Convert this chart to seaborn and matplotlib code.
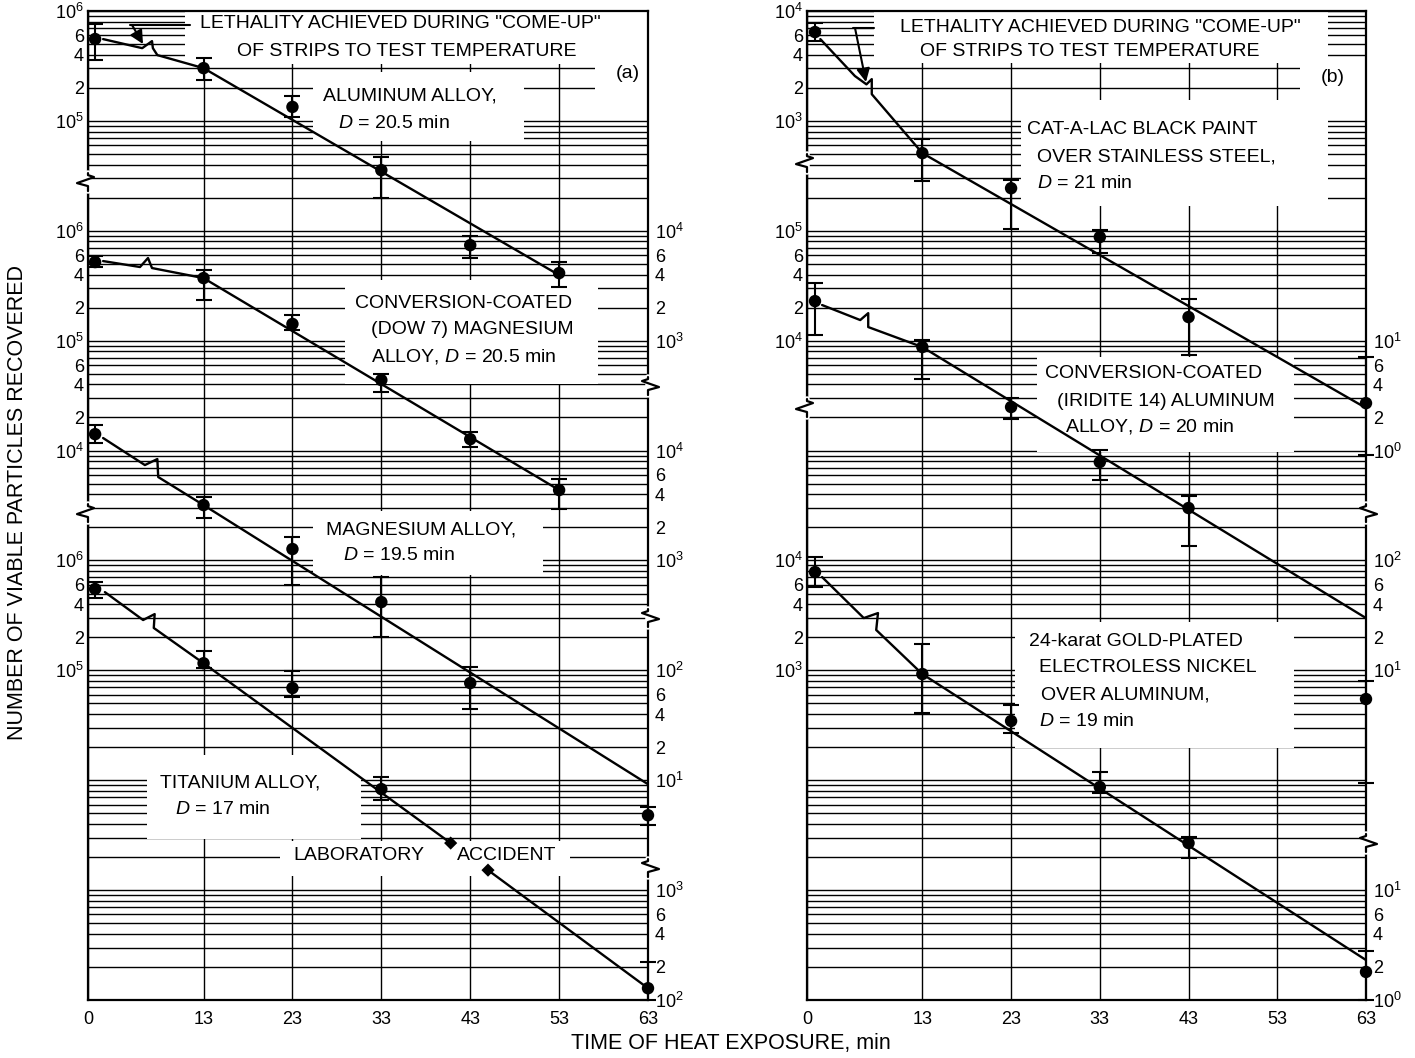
import numpy as np
import matplotlib
matplotlib.use("Agg")
import matplotlib.pyplot as plt
import seaborn as sns
from matplotlib.patches import Rectangle
from matplotlib.lines import Line2D
from matplotlib.ticker import LogLocator, NullLocator, FixedLocator, NullFormatter
from matplotlib.transforms import blended_transform_factory, IdentityTransform

# ---------------------------------------------------------------- data
TIME_TICKS = [0, 13, 23, 33, 43, 53, 63]

# ---- panel (a)
AL_T = [0.8, 13, 23, 33, 43, 53]
AL_V = [5.56e5, 3.02e5, 1.34e5, 3.56e4, 7.4e3, 4.12e3]
AL_HI = [7.6e5, 3.73e5, 1.68e5, 4.69e4, 8.95e3, 5.19e3]
AL_LO = [3.57e5, 2.35e5, 1.08e5, 1.98e4, 5.65e3, 3.07e3]
AL_FIT_T = [13, 53]
AL_FIT_V = [3.02e5, 3.95e3]
AL_CUP_T = [1.7, 6.1, 7.2, 7.3, 7.8, 13]
AL_CUP_V = [5.55e5, 4.59e5, 5.32e5, 4.59e5, 3.97e5, 3.02e5]

DOW_T = [0.8, 13, 23, 33, 43, 53]
DOW_V = [5.19e5, 3.71e5, 1.42e5, 4.38e4, 1.27e4, 4.37e3]
DOW_HI = [5.89e5, 4.39e5, 1.71e5, 4.97e4, 1.47e4, 5.5e3]
DOW_LO = [4.68e5, 2.34e5, 1.25e5, 3.40e4, 1.08e4, 2.94e3]
DOW_FIT_T = [13, 53]
DOW_FIT_V = [3.71e5, 4.37e3]
DOW_CUP_T = [1.7, 5.85, 6.75, 7.2, 13]
DOW_CUP_V = [5.3e5, 4.68e5, 5.65e5, 4.58e5, 3.71e5]

MG_T = [0.8, 13, 23, 33, 43, 63]
MG_V = [1.41e4, 3.19e3, 1.27e3, 418, 76.6, 4.8]
MG_HI = [1.71e4, 3.78e3, 1.63e3, 706, 107, 5.7]
MG_LO = [1.17e4, 2.43e3, 597, 201, 44.5, 3.9]
MG_FIT_T = [13, 63]
MG_FIT_V = [3.19e3, 9.2]
MG_CUP_T = [1.7, 6.4, 7.8, 7.9, 13]
MG_CUP_V = [1.30e4, 7.38e3, 8.37e3, 5.74e3, 3.19e3]

TI_T = [0.8, 13, 23, 33, 63]
TI_V = [5.5e5, 1.16e5, 6.9e4, 8.3e3, 128]
TI_HI = [6.36e5, 1.50e5, 9.86e4, 1.07e4, 222]
TI_LO = [4.55e5, 1.05e5, 5.71e4, 6.6e3, 100]
TI_FIT_T = [13, 40.8, 45.0, 63]          # gap = laboratory accident
TI_FIT_V = [1.16e5, 2.68e3, 1.52e3, 128]
TI_CUP_T = [1.9, 6.2, 7.5, 7.4, 13]
TI_CUP_V = [5.15e5, 2.87e5, 3.25e5, 2.43e5, 1.16e5]

# ---- panel (b)
CAT_T = [0.9, 13, 23, 33, 43, 63]
CAT_V = [6.43e3, 509, 244, 87.7, 16.4, 2.70]
CAT_HI = [7.76e3, 683, 289, 101, 23.9, 7.1]
CAT_LO = [5.32e3, 283, 104, 62.7, 7.4, 0.91]
CAT_FIT_T = [13, 63]
CAT_FIT_V = [509, 2.44]
CAT_CUP_T = [1.5, 5.4, 6.7, 7.3, 7.3, 13]
CAT_CUP_V = [5.55e3, 2.56e3, 2.15e3, 2.4e3, 1.75e3, 509]

IRI_T = [0.9, 13, 23, 33, 43, 63]
IRI_V = [2.29e4, 8.75e3, 2.49e3, 786, 300, 5.48]
IRI_HI = [3.34e4, 1.01e4, 3.0e3, 1.01e3, 385, 8.0]
IRI_LO = [1.12e4, 4.48e3, 1.94e3, 539, 135, 0.94]
IRI_FIT_T = [13, 63]
IRI_FIT_V = [8.75e3, 29.9]
IRI_CUP_T = [1.7, 6.0, 6.9, 6.9, 13]
IRI_CUP_V = [2.11e4, 1.54e4, 1.78e4, 1.33e4, 8.75e3]

GOLD_T = [0.9, 13, 23, 33, 43, 63]
GOLD_V = [7.84e3, 925, 346, 86.7, 26.8, 1.80]
GOLD_HI = [1.07e4, 1.73e3, 483, 119, 30.4, 2.79]
GOLD_LO = [5.73e3, 409, 269, 76.5, 19.6, 1.0]
GOLD_FIT_T = [13, 63]
GOLD_FIT_V = [925, 2.31]
GOLD_CUP_T = [1.7, 6.4, 8.0, 7.8, 13]
GOLD_CUP_V = [7.06e3, 2.99e3, 3.32e3, 2.33e3, 925]

# tick label groups: (exponent placing the scale on the 9-decade sheet, values)
LEFT_A = [(3, [1e6, 6e5, 4e5, 2e5, 1e5]),
          (1, [1e6, 6e5, 4e5, 2e5, 1e5, 6e4, 4e4, 2e4, 1e4]),
          (-2, [1e6, 6e5, 4e5, 2e5, 1e5])]
RIGHT_A = [(3, [1e4, 6e3, 4e3, 2e3, 1e3]),
           (1, [1e4, 6e3, 4e3, 2e3, 1e3]),
           (1, [1e2, 60, 40, 20, 10]),
           (-2, [1e3, 600, 400, 200, 100])]
LEFT_B = [(5, [1e4, 6e3, 4e3, 2e3, 1e3]),
          (2, [1e5, 6e4, 4e4, 2e4, 1e4]),
          (0, [1e4, 6e3, 4e3, 2e3, 1e3])]
RIGHT_B = [(5, [10, 6, 4, 2, 1]),
           (2, [100, 60, 40, 20, 10]),
           (0, [10, 6, 4, 2, 1])]

SHIFT = dict(AL=3, DOW=1, MG=1, TI=-2, CAT=5, IRI=2, GOLD=0)

# ---------------------------------------------------------------- style
sns.set_style("white")
plt.rcParams.update({
    "font.family": ["Liberation Sans", "DejaVu Sans"],
    "mathtext.fontset": "custom",
    "mathtext.rm": "Liberation Sans",
    "mathtext.it": "Liberation Sans:italic",
    "mathtext.bf": "Liberation Sans:bold",
    "axes.linewidth": 1.5,
    "axes.edgecolor": "black",
    "text.color": "black",
    "xtick.color": "black",
    "ytick.color": "black",
})

W, H = 1415, 1058
fig = plt.figure(figsize=(W / 100, H / 100), dpi=100)
X0 = {"a": 88, "b": 807}
X1 = {"a": 648, "b": 1366}
YT, YB = 11, 1000


def fx(p, x):
    return (x - X0[p]) / (X1[p] - X0[p])


def fy(y):
    return (YB - y) / (YB - YT)


axes = {}
for p in ("a", "b"):
    ax = fig.add_axes([X0[p] / W, (H - YB) / H, (X1[p] - X0[p]) / W, (YB - YT) / H])
    ax.set_yscale("log")
    axes[p] = ax


def lab(v):
    k = np.log10(v)
    if abs(k - round(k)) < 1e-9:
        return r"$\mathregular{10^{%d}}$" % int(round(k))
    return "%d" % int(round(v / 10 ** np.floor(k)))


def series(ax, t, v, hi, lo, ft, fv, ct, cv, key):
    k = 10.0 ** SHIFT[key]
    v = np.asarray(v) * k
    hi = np.asarray(hi) * k
    lo = np.asarray(lo) * k
    sns.lineplot(x=ct, y=np.asarray(cv) * k, ax=ax, color="k", lw=1.7,
                 estimator=None, sort=False, zorder=3)
    if key == "TI":
        fvv = np.asarray(fv) * k
        sns.lineplot(x=ft[:2], y=fvv[:2], ax=ax, color="k", lw=1.7,
                     estimator=None, sort=False, zorder=3)
        sns.lineplot(x=ft[2:], y=fvv[2:], ax=ax, color="k", lw=1.7,
                     estimator=None, sort=False, zorder=3)
        sns.scatterplot(x=ft[1:3], y=fvv[1:3], ax=ax, color="k", s=45,
                        marker="D", edgecolor="none", zorder=5, legend=False)
    else:
        sns.lineplot(x=ft, y=np.asarray(fv) * k, ax=ax, color="k", lw=1.7,
                     estimator=None, sort=False, zorder=3)
    ax.errorbar(t, v, yerr=[v - lo, hi - v], fmt="none", ecolor="k",
                elinewidth=1.5, capsize=6, capthick=1.5, zorder=4, clip_on=False)
    sc = sns.scatterplot(x=t, y=v, ax=ax, color="k", s=80, edgecolor="none",
                         zorder=5, legend=False)
    for c in sc.collections:
        c.set_clip_on(False)


axA, axB = axes["a"], axes["b"]
series(axA, AL_T, AL_V, AL_HI, AL_LO, AL_FIT_T, AL_FIT_V, AL_CUP_T, AL_CUP_V, "AL")
series(axA, DOW_T, DOW_V, DOW_HI, DOW_LO, DOW_FIT_T, DOW_FIT_V, DOW_CUP_T, DOW_CUP_V, "DOW")
series(axA, MG_T, MG_V, MG_HI, MG_LO, MG_FIT_T, MG_FIT_V, MG_CUP_T, MG_CUP_V, "MG")
series(axA, TI_T, TI_V, TI_HI, TI_LO, TI_FIT_T, TI_FIT_V, TI_CUP_T, TI_CUP_V, "TI")
series(axB, CAT_T, CAT_V, CAT_HI, CAT_LO, CAT_FIT_T, CAT_FIT_V, CAT_CUP_T, CAT_CUP_V, "CAT")
series(axB, IRI_T, IRI_V, IRI_HI, IRI_LO, IRI_FIT_T, IRI_FIT_V, IRI_CUP_T, IRI_CUP_V, "IRI")
series(axB, GOLD_T, GOLD_V, GOLD_HI, GOLD_LO, GOLD_FIT_T, GOLD_FIT_V, GOLD_CUP_T, GOLD_CUP_V, "GOLD")

TICKS = {"a": (LEFT_A, RIGHT_A), "b": (LEFT_B, RIGHT_B)}
for p, ax in axes.items():
    ax.set_xlim(0, 63)
    ax.set_ylim(1, 1e9)
    ax.set_xlabel("")
    ax.set_ylabel("")
    ax.set_axisbelow(True)
    ax.set_xticks(TIME_TICKS)
    ax.set_xticklabels([str(t) for t in TIME_TICKS], fontsize=13)
    left, right = TICKS[p]
    lpos = [v * 10.0 ** e for e, vals in left for v in vals]
    llab = [lab(v) for e, vals in left for v in vals]
    ax.yaxis.set_major_locator(FixedLocator(lpos))
    ax.set_yticklabels(llab, fontsize=13)
    ax.yaxis.set_minor_locator(LogLocator(base=10, subs=np.arange(1, 10), numticks=500))
    ax.yaxis.set_minor_formatter(NullFormatter())
    ax.tick_params(axis="both", which="both", length=0)
    ax.tick_params(axis="y", pad=3)
    ax.tick_params(axis="x", pad=8)
    ax.grid(True, which="major", color="k", lw=1.0)
    ax.grid(True, which="minor", axis="y", color="k", lw=1.0)
    for s in ax.spines.values():
        s.set_color("k")
        s.set_linewidth(1.6)
    axr = ax.twinx()
    axr.set_yscale("log")
    axr.set_ylim(1, 1e9)
    rpos = [v * 10.0 ** e for e, vals in right for v in vals]
    rlab = [lab(v) for e, vals in right for v in vals]
    axr.yaxis.set_major_locator(FixedLocator(rpos))
    axr.yaxis.set_minor_locator(NullLocator())
    axr.yaxis.set_minor_formatter(NullFormatter())
    axr.set_yticklabels(rlab, fontsize=13)
    axr.tick_params(axis="y", length=0, pad=5)
    for s in axr.spines.values():
        s.set_visible(False)

# ---------------------------------------------------------------- white label boxes
BOXES = {
    "a": [(185, 11, 648, 64), (595, 64, 648, 100), (313, 72, 524, 141),
          (345, 280, 598, 384), (313, 511, 543, 575), (147, 755, 361, 839),
          (280, 841, 570, 876)],
    "b": [(874, 11, 1328, 63), (1300, 64, 1366, 100), (1021, 100, 1328, 206),
          (1037, 357, 1294, 452), (1015, 622, 1294, 748)],
}
for p, ax in axes.items():
    for (x0, y0, x1, y1) in BOXES[p]:
        ax.add_patch(Rectangle((fx(p, x0), fy(y1)), fx(p, x1) - fx(p, x0), fy(y0) - fy(y1),
                               transform=ax.transAxes, facecolor="white",
                               edgecolor="none", zorder=2))

TEXTS = {
    "a": [('LETHALITY ACHIEVED DURING "COME-UP"', 400, 24, "center"),
          ("OF STRIPS TO TEST TEMPERATURE", 407, 52, "center"),
          ("(a)", 628, 73, "center"),
          ("ALUMINUM ALLOY,", 323, 96, "left"),
          ("$D$ = 20.5 min", 338, 124, "left"),
          ("CONVERSION-COATED", 355, 303, "left"),
          ("(DOW 7) MAGNESIUM", 371, 330, "left"),
          ("ALLOY, $D$ = 20.5 min", 371, 357, "left"),
          ("MAGNESIUM ALLOY,", 326, 530, "left"),
          ("$D$ = 19.5 min", 343, 556, "left"),
          ("TITANIUM ALLOY,", 160, 783, "left"),
          ("$D$ = 17 min", 175, 809, "left"),
          ("LABORATORY", 293, 855, "left"),
          ("ACCIDENT", 457, 855, "left")],
    "b": [('LETHALITY ACHIEVED DURING "COME-UP"', 1100, 28, "center"),
          ("OF STRIPS TO TEST TEMPERATURE", 1090, 52, "center"),
          ("(b)", 1333, 77, "center"),
          ("CAT-A-LAC BLACK PAINT", 1027, 130, "left"),
          ("OVER STAINLESS STEEL,", 1037, 157, "left"),
          ("$D$ = 21 min", 1037, 184, "left"),
          ("CONVERSION-COATED", 1045, 373, "left"),
          ("(IRIDITE 14) ALUMINUM", 1057, 401, "left"),
          ("ALLOY, $D$ = 20 min", 1065, 427, "left"),
          ("24-karat GOLD-PLATED", 1029, 642, "left"),
          ("ELECTROLESS NICKEL", 1039, 668, "left"),
          ("OVER ALUMINUM,", 1041, 695, "left"),
          ("$D$ = 19 min", 1039, 722, "left")],
}
for p, ax in axes.items():
    for (s, x, y, ha) in TEXTS[p]:
        ax.text(fx(p, x), fy(y), s, transform=ax.transAxes, ha=ha, va="center",
                fontsize=14, zorder=6)

# leader arrows to the "come-up" part of the curves
LEADERS = {"a": ((190, 25), (130, 25), (143, 44)),
           "b": ((874, 28), (853, 28), (866, 82))}
for p, ax in axes.items():
    (xa, ya), (xb, yb), (xc, yc) = LEADERS[p]
    ax.add_line(Line2D([fx(p, xa), fx(p, xb)], [fy(ya), fy(yb)], transform=ax.transAxes,
                       color="k", lw=1.5, zorder=6))
    ax.annotate("", xy=(fx(p, xc), fy(yc)), xytext=(fx(p, xb + 2), fy(yb)),
                xycoords="axes fraction", textcoords="axes fraction",
                arrowprops=dict(arrowstyle="-|>", color="k", lw=1.5,
                                mutation_scale=20, shrinkA=0, shrinkB=0),
                zorder=6)

# axis breaks (exponent on the sheet)
BREAKS = {"a": [("left", 7.443), ("left", 4.431), ("right", 5.587),
                ("right", 3.476), ("right", 1.201)],
          "b": [("left", 7.616), ("left", 5.387), ("right", 4.431),
                ("right", 1.429)]}
for p, ax in axes.items():
    tr = blended_transform_factory(ax.transAxes, ax.transData)
    for side, L in BREAKS[p]:
        X, Y = tr.transform((0 if side == "left" else 1, 10 ** L))
        s = 1 if side == "left" else -1
        ax.add_line(Line2D([X, X], [Y - 9, Y + 9], transform=IdentityTransform(),
                           color="white", lw=4, clip_on=False, zorder=7))
        ax.add_line(Line2D([X, X, X + 6 * s, X - 11 * s, X, X],
                           [Y + 9, Y + 7, Y + 5, Y - 1, Y - 4, Y - 9],
                           transform=IdentityTransform(), color="k", lw=1.6,
                           clip_on=False, zorder=8))

fig.text(18 / W, 1 - 503 / H, "NUMBER OF VIABLE PARTICLES RECOVERED", rotation=90,
         ha="center", va="center", fontsize=15.5)
fig.text(731 / W, 1 - 1043 / H, "TIME OF HEAT EXPOSURE, min", ha="center",
         va="center", fontsize=15.5)

fig.savefig("out.png", dpi=100)
